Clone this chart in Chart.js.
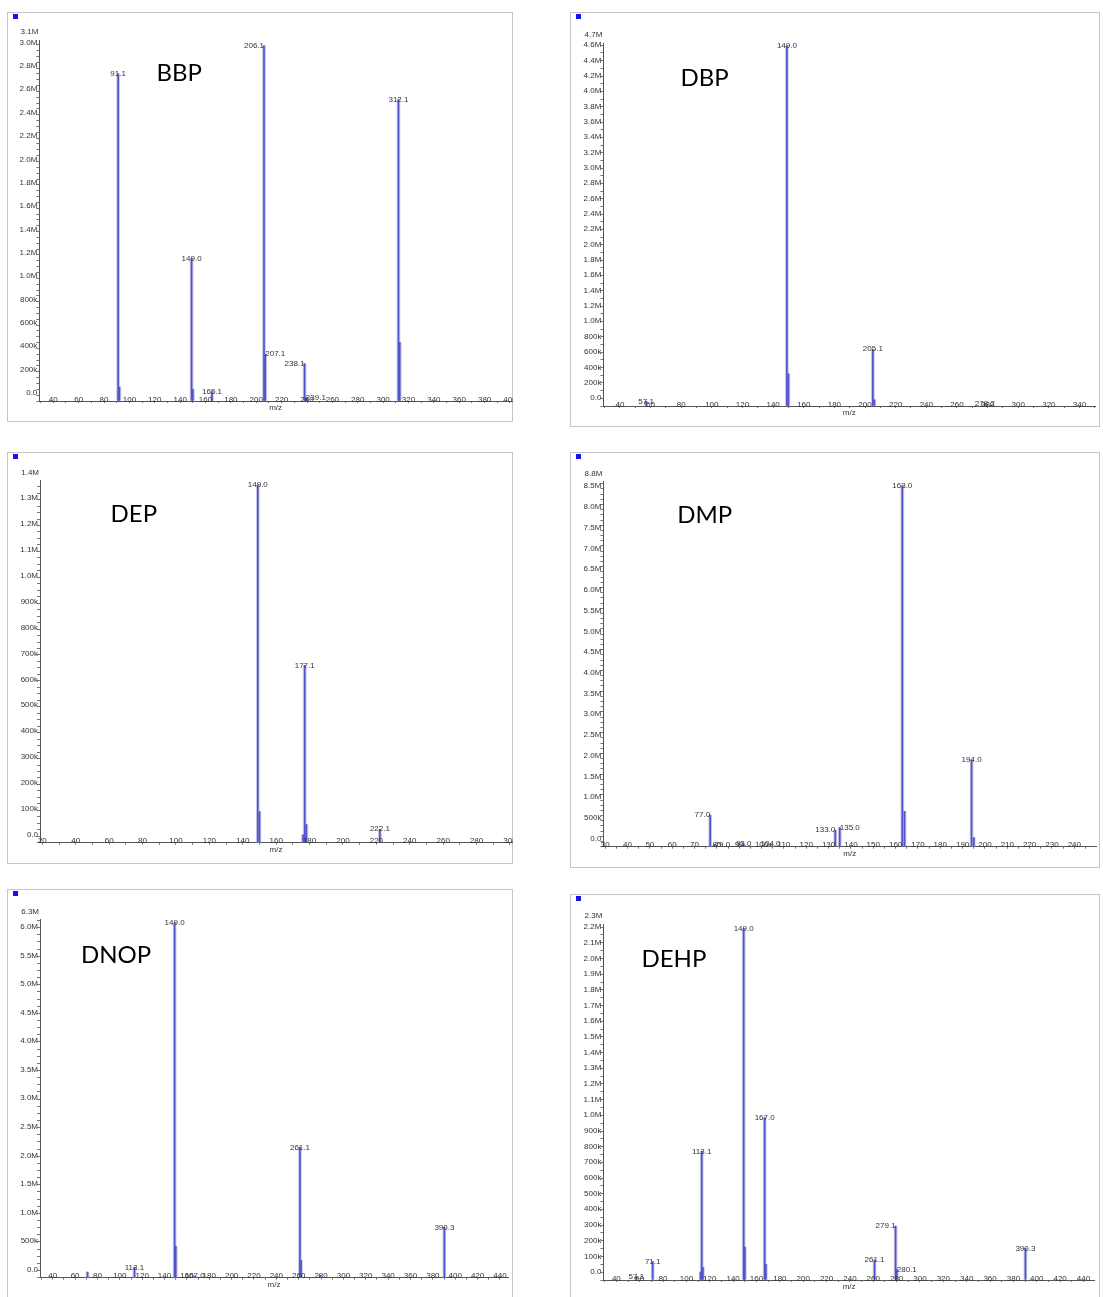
<!DOCTYPE html>
<html>
<head>
<meta charset="utf-8">
<script src="https://cdn.jsdelivr.net/npm/chart.js@4.4.1/dist/chart.umd.min.js"></script>
<style>
html, body { margin: 0; padding: 0; background: #fff; overflow: hidden; }
#page { position: relative; width: 1103px; height: 1297px; overflow: hidden; }
.box { position: absolute; border: 1px solid #c6c6c6; box-sizing: border-box; }
.mark { position: absolute; width: 5px; height: 5px; background: #1414f0; }
canvas { position: absolute; }
</style>
</head>
<body>
<div id="page"></div>
<script>
// spectra: m/z, abundance (millions), 1 = peak carries a label

// BBP
const bbpMz = [91.1, 92.1, 149.0, 150.0, 165.1, 206.1, 207.1, 238.1, 239.1, 312.1, 313.1];
const bbpAbund = [2.80, 0.12, 1.22, 0.10, 0.08, 3.04, 0.40, 0.32, 0.03, 2.58, 0.50];
const bbpTagged = [1, 0, 1, 0, 1, 1, 1, 1, 1, 1, 0];

// DBP
const dbpMz = [57.1, 149.0, 150.0, 205.1, 206.1, 278.2];
const dbpAbund = [0.06, 4.69, 0.42, 0.74, 0.08, 0.03];
const dbpTagged = [1, 1, 0, 1, 0, 1];

// DEP
const depMz = [149.0, 150.0, 176.1, 177.1, 178.1, 222.1];
const depAbund = [1.381, 0.12, 0.03, 0.685, 0.07, 0.052];
const depTagged = [1, 0, 0, 1, 0, 1];

// DMP
const dmpMz = [77.0, 79.0, 92.0, 104.0, 133.0, 135.0, 163.0, 164.0, 194.0, 195.0];
const dmpAbund = [0.76, 0.05, 0.07, 0.07, 0.40, 0.46, 8.70, 0.85, 2.09, 0.22];
const dmpTagged = [1, 1, 1, 1, 1, 1, 1, 0, 1, 0];

// DNOP
const dnopMz = [71.1, 113.1, 149.0, 150.0, 167.0, 261.1, 262.1, 279.1, 390.3];
const dnopAbund = [0.10, 0.18, 6.21, 0.55, 0.03, 2.28, 0.30, 0.04, 0.88];
const dnopTagged = [0, 1, 1, 0, 1, 1, 0, 0, 1];

// DEHP
const dehpMz = [57.1, 71.1, 112.1, 113.1, 114.1, 149.0, 150.0, 167.0, 168.0, 261.1, 279.1, 280.1, 390.3];
const dehpAbund = [0.02, 0.117, 0.05, 0.82, 0.08, 2.24, 0.21, 1.036, 0.10, 0.127, 0.344, 0.068, 0.202];
const dehpTagged = [1, 1, 0, 1, 0, 1, 0, 1, 0, 1, 1, 1, 1];

const smallFont = "'Liberation Sans Narrow', 'Liberation Sans', Arial, sans-serif";
Chart.defaults.font.family = smallFont;

// panel layout (page pixels) and scale ranges
const panels = [
    {name: 'BBP', mz: bbpMz, ab: bbpAbund, tag: bbpTagged,
     box: [7, 12, 513, 422], axis: {left: 39.3, top: 40, right: 512, bottom: 401},
     xMin: 28.96, xMax: 401.6, xMajor: 20, xMinor: 10,
     yMax: 3.09, yMajor: 0.2, yMinor: 0.05, titleX: 179.3, titleY: 80.7},
    {name: 'DBP', mz: dbpMz, ab: dbpAbund, tag: dbpTagged,
     box: [569.5, 12, 1100, 427], axis: {left: 603.4, top: 43, right: 1095, bottom: 406},
     xMin: 29.23, xMax: 350.1, xMajor: 20, xMinor: 10,
     yMax: 4.73, yMajor: 0.2, yMinor: 0.1, titleX: 704.6, titleY: 86},
    {name: 'DEP', mz: depMz, ab: depAbund, tag: depTagged,
     box: [7, 451.7, 513, 864], axis: {left: 40, top: 480.7, right: 512, bottom: 842.7},
     xMin: 18.6, xMax: 301.2, xMajor: 20, xMinor: 10,
     yMax: 1.398, yMajor: 0.1, yMinor: 0.025, titleX: 133.8, titleY: 521.7},
    {name: 'DMP', mz: dmpMz, ab: dmpAbund, tag: dmpTagged,
     box: [569.5, 451.7, 1100, 868], axis: {left: 603.4, top: 481.7, right: 1096, bottom: 846.7},
     xMin: 29.2, xMax: 249.7, xMajor: 10, xMinor: 5,
     yMax: 8.8, yMajor: 0.5, yMinor: 0.125, titleX: 704.7, titleY: 522.7},
    {name: 'DNOP', mz: dnopMz, ab: dnopAbund, tag: dnopTagged,
     box: [7, 889.3, 513, 1303], axis: {left: 40, top: 919.3, right: 508, bottom: 1277.7},
     xMin: 28.6, xMax: 447.2, xMajor: 20, xMinor: 10,
     yMax: 6.27, yMajor: 0.5, yMinor: 0.125, titleX: 116, titleY: 963.3},
    {name: 'DEHP', mz: dehpMz, ab: dehpAbund, tag: dehpTagged,
     box: [569.5, 894.3, 1100, 1303], axis: {left: 603.4, top: 924, right: 1094.8, bottom: 1280},
     xMin: 28.9, xMax: 449.7, xMajor: 20, xMinor: 10,
     yMax: 2.27, yMajor: 0.1, yMinor: 0.05, titleX: 673.9, titleY: 966.7}
];

function isMult(v, step) {
    const r = v / step;
    return Math.abs(r - Math.round(r)) < 1e-6;
}

function fmtAbund(v) {
    if (Math.abs(v) < 1e-9) return '0.0';
    if (v < 1 - 1e-9) return Math.round(v * 1000) + 'k';
    return v.toFixed(1) + 'M';
}

// ticks on whole multiples of step inside [min, max]
function stepTicks(min, max, step) {
    const out = [];
    const first = Math.ceil(min / step - 1e-9);
    for (let k = first; k * step <= max + 1e-9; k++) {
        out.push({value: Math.round(k * step * 1e6) / 1e6});
    }
    return out;
}

function makePanel(p) {
    const page = document.getElementById('page');
    const left = Math.round(p.box[0]);
    const top = Math.round(p.box[1]);
    const width = Math.round(p.box[2]) - left;
    const height = Math.round(p.box[3]) - top;

    const box = document.createElement('div');
    box.className = 'box';
    Object.assign(box.style, {left: left + 'px', top: top + 'px', width: width + 'px', height: height + 'px'});
    page.appendChild(box);

    const mark = document.createElement('div');
    mark.className = 'mark';
    Object.assign(mark.style, {left: (left + 6) + 'px', top: (top + 2) + 'px'});
    page.appendChild(mark);

    const canvas = document.createElement('canvas');
    canvas.width = width;
    canvas.height = height;
    Object.assign(canvas.style, {left: left + 'px', top: top + 'px', width: width + 'px', height: height + 'px'});
    page.appendChild(canvas);

    const yWidth = p.axis.left - left;
    const xHeight = height - (p.axis.bottom - top);
    const points = p.mz.map((m, i) => ({x: m, y: p.ab[i]}));

    const annot = {
        id: 'annot',
        afterDatasetsDraw(chart) {
            const ctx = chart.ctx;
            const area = chart.chartArea;
            const xs = chart.scales.x;
            ctx.save();
            ctx.font = '8px ' + smallFont;
            ctx.fillStyle = '#333';
            ctx.textBaseline = 'middle';

            // m/z tick labels sit across the axis line
            ctx.textAlign = 'center';
            xs.ticks.forEach(t => {
                if (isMult(t.value, p.xMajor)) {
                    ctx.fillText(String(Math.round(t.value)), xs.getPixelForValue(t.value), area.bottom - 1.5);
                }
            });

            // peak labels; a close pair is pushed apart
            const meta = chart.getDatasetMeta(1);
            const tagged = meta.data.map((el, i) => ({el, i})).filter(o => p.tag[o.i]);
            tagged.forEach((o, k) => {
                const prev = tagged[k - 1], next = tagged[k + 1];
                let align = 'center';
                if (next && next.el.x - o.el.x < 10) align = 'right';
                else if (prev && o.el.x - prev.el.x < 10) align = 'left';
                ctx.textAlign = align;
                ctx.fillText(p.mz[o.i].toFixed(1), o.el.x, o.el.y);
            });

            // abundance header above the axis
            ctx.textAlign = 'right';
            ctx.fillText(fmtAbund(p.yMax), area.left - 1, area.top - 8);

            // compound name
            ctx.font = '24px Lato';
            ctx.fillStyle = '#000';
            ctx.textAlign = 'center';
            ctx.textBaseline = 'alphabetic';
            ctx.fillText(p.name, p.titleX - left, p.titleY - top);
            ctx.restore();
        }
    };

    new Chart(canvas, {
        type: 'bar',
        data: {
            datasets: [
                {data: points, backgroundColor: 'rgba(182,182,222,0.75)', barThickness: 3, grouped: false, order: 2},
                {data: points, backgroundColor: '#5252cc', barThickness: 1, grouped: false, order: 1}
            ]
        },
        options: {
            responsive: false,
            animation: false,
            devicePixelRatio: 1,
            layout: {padding: {left: 0, top: p.axis.top - top, right: left + width - p.axis.right, bottom: 0}},
            plugins: {legend: {display: false}, tooltip: {enabled: false}},
            scales: {
                x: {
                    type: 'linear',
                    bounds: 'data',
                    offset: false,
                    min: p.xMin,
                    max: p.xMax,
                    grid: {offset: false, drawOnChartArea: false, drawTicks: true, tickLength: 2, color: '#777'},
                    border: {display: true, color: '#555', width: 1},
                    ticks: {display: false, autoSkip: false, maxRotation: 0},
                    afterBuildTicks: s => { s.ticks = stepTicks(p.xMin, p.xMax, p.xMinor); },
                    title: {display: true, text: 'm/z', color: '#333', font: {size: 8},
                            padding: {top: 0, bottom: xHeight - 11.8}},
                    afterFit: s => { s.height = xHeight; s.paddingLeft = 0; s.paddingRight = 0; }
                },
                y: {
                    type: 'linear',
                    bounds: 'data',
                    min: 0,
                    max: p.yMax,
                    grid: {drawOnChartArea: false, drawTicks: true, tickLength: 3, color: '#777'},
                    border: {display: true, color: '#555', width: 1},
                    ticks: {
                        autoSkip: false,
                        padding: -1,
                        labelOffset: -8,
                        color: '#333',
                        font: {size: 8},
                        callback: v => isMult(v, p.yMajor) ? fmtAbund(v) : ''
                    },
                    afterBuildTicks: s => { s.ticks = stepTicks(0, p.yMax, p.yMinor); },
                    afterFit: s => { s.width = yWidth; s.paddingTop = 0; s.paddingBottom = 0; }
                }
            }
        },
        plugins: [annot]
    });
}

panels.forEach(makePanel);
</script>
</body>
</html>
